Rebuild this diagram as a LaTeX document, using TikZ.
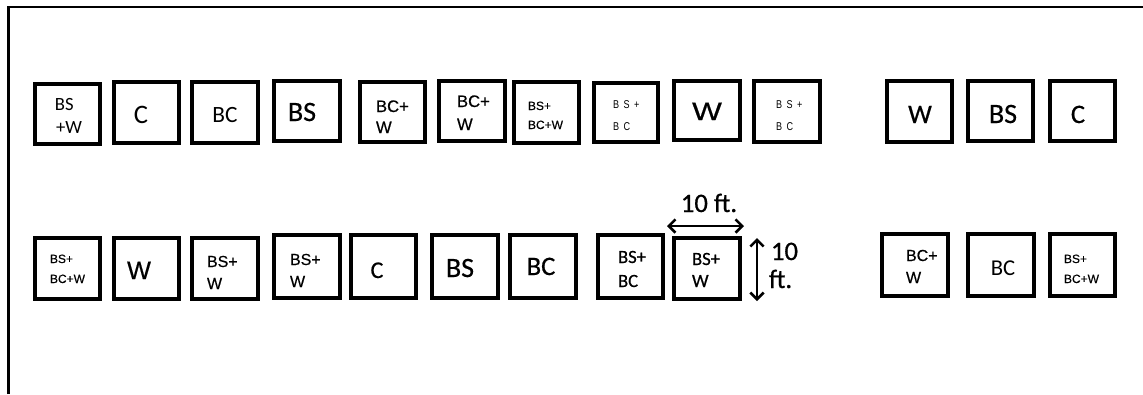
\documentclass[tikz,border=0pt]{standalone}
\usepackage{fontspec}
\setmainfont{Carlito}
\newfontfamily\calfont[FakeBold=0.6]{Carlito}
\newfontfamily\callight{Carlito}
\newfontfamily\ari[FakeBold=0.5]{Liberation Sans}
\newfontfamily\ariwide[FakeStretch=1.25,FakeBold=0.5]{Liberation Sans}
\newfontfamily\arisp[FakeStretch=0.8,LetterSpace=40]{Liberation Sans}
\usetikzlibrary{fit,arrows.meta}
\newcommand\fs[1]{\fontsize{#1pt}{#1pt}\selectfont}
\newcommand\plotbox[5]{\node[plotbx, fit={({#2+1},{#3+1}) ({#4-1},{#5-1})}] (#1) {};}
\newcommand\lab[6]{\node[lab, anchor=#2] (#1) at (#3,#4) {#5#6};}
\begin{document}
\begin{tikzpicture}[x=0.75pt,y=-0.75pt,
  plotbx/.style={draw, line width=2.3pt, inner sep=0pt},
  lab/.style={inner sep=0pt, outer sep=0pt},
  frameline/.style={line width=1.8pt},
  dimarrow/.style={line width=1.9pt, {Straight Barb[length=5pt,width=10pt]}-{Straight Barb[length=5pt,width=10pt]}}]
\useasboundingbox (0,0) rectangle (1143,394);
% frame
\draw[frameline] (8.5,394) -- (8.5,7) -- (1143,7);
% ---------- top row
\plotbox{b1}{34}{83}{101}{145}
\lab{b1a}{base west}{55}{110}{\callight\fs{14}}{BS}
\lab{b1b}{base west}{56}{133}{\callight\fs{14}}{+W}
\plotbox{b2}{113}{81}{180}{144}
\lab{b2a}{base}{141}{123}{\callight\fs{20}}{C}
\plotbox{b3}{191}{81}{259}{144}
\lab{b3a}{base}{225}{122}{\callight\fs{17.5}}{BC}
\plotbox{b4}{273}{80}{341}{142}
\lab{b4a}{base}{302}{121}{\calfont\fs{21}}{BS}
\plotbox{b5}{359}{81}{426}{143}
\lab{b5a}{base west}{376}{112}{\ari\fs{12.5}}{BC+}
\lab{b5b}{base west}{376}{133}{\ari\fs{12.5}}{W}
\plotbox{b6}{438}{80}{506}{142}
\lab{b6a}{base west}{457}{107}{\ari\fs{12.5}}{BC+}
\lab{b6b}{base west}{457}{130}{\ari\fs{12.5}}{W}
\plotbox{b7}{513}{81}{580}{144}
\lab{b7a}{base west}{528}{110}{\ari\fs{9}}{BS+}
\lab{b7b}{base west}{528}{129}{\ari\fs{9}}{BC+W}
\plotbox{b8}{593}{82}{659}{143}
\lab{b8a}{base west}{613}{108}{\arisp\fs{8.5}}{BS+}
\lab{b8b}{base west}{613}{130}{\arisp\fs{8.5}}{BC}
\plotbox{b9}{673}{80}{741}{141}
\lab{b9a}{base}{707}{120}{\ariwide\fs{19}}{W}
\plotbox{b10}{753}{80}{821}{143}
\lab{b10a}{base west}{776}{108}{\arisp\fs{8.5}}{BS+}
\lab{b10b}{base west}{776}{130}{\arisp\fs{8.5}}{BC}
\plotbox{b11}{886}{80}{953}{143}
\lab{b11a}{base}{920}{123}{\calfont\fs{20}}{W}
\plotbox{b12}{967}{80}{1034}{142}
\lab{b12a}{base}{1003}{123}{\calfont\fs{21}}{BS}
\plotbox{b13}{1049}{80}{1116}{142}
\lab{b13a}{base}{1078}{123}{\calfont\fs{20}}{C}
% ---------- bottom row
\plotbox{c1}{34}{237}{101}{300}
\lab{c1a}{base west}{50}{263}{\ari\fs{9}}{BS+}
\lab{c1b}{base west}{50}{283}{\ari\fs{9}}{BC+W}
\plotbox{c2}{113}{237}{180}{300}
\lab{c2a}{base}{139}{279}{\ari\fs{19}}{W}
\plotbox{c3}{191}{237}{259}{300}
\lab{c3a}{base west}{207}{267}{\ari\fs{12}}{BS+}
\lab{c3b}{base west}{207}{289}{\ari\fs{12}}{W}
\plotbox{c4}{273}{234}{341}{299}
\lab{c4a}{base west}{290}{265}{\ari\fs{12}}{BS+}
\lab{c4b}{base west}{290}{287}{\ari\fs{12}}{W}
\plotbox{c5}{350}{234}{417}{299}
\lab{c5a}{base}{377}{278}{\calfont\fs{18}}{C}
\plotbox{c6}{431}{234}{499}{299}
\lab{c6a}{base}{460}{277}{\calfont\fs{21}}{BS}
\plotbox{c7}{509}{234}{577}{299}
\lab{c7a}{base}{541}{275}{\calfont\fs{20}}{BC}
\plotbox{c8}{597}{234}{664}{299}
\lab{c8a}{base west}{618}{263}{\calfont\fs{14}}{BS+}
\lab{c8b}{base west}{618}{287}{\calfont\fs{14}}{BC}
\plotbox{c9}{673}{237}{741}{300}
\lab{c9a}{base west}{692}{265}{\calfont\fs{14}}{BS+}
\lab{c9b}{base west}{692}{287}{\calfont\fs{14}}{W}
\plotbox{c10}{881}{233}{949}{297}
\lab{c10a}{base west}{906}{261}{\ari\fs{12}}{BC+}
\lab{c10b}{base west}{906}{283}{\ari\fs{12}}{W}
\plotbox{c11}{967}{233}{1035}{297}
\lab{c11a}{base}{1003}{275}{\callight\fs{17}}{BC}
\plotbox{c12}{1049}{233}{1116}{297}
\lab{c12a}{base west}{1064}{263}{\ari\fs{9}}{BS+}
\lab{c12b}{base west}{1064}{283}{\ari\fs{9}}{BC+W}
% ---------- dimensions
\coordinate (hl) at (667,226);
\coordinate (hr) at (744,226);
\draw[dimarrow] (hl) -- (hr);
\lab{dimh}{base}{709}{212}{\calfont\fs{20}}{10 ft.}
\coordinate (vt) at (757,238);
\coordinate (vb) at (757,301);
\draw[dimarrow] (vt) -- (vb);
\lab{dimva}{base west}{771}{260}{\calfont\fs{20}}{10}
\lab{dimvb}{base west}{769}{288}{\calfont\fs{20}}{ft.}
\end{tikzpicture}
\end{document}
